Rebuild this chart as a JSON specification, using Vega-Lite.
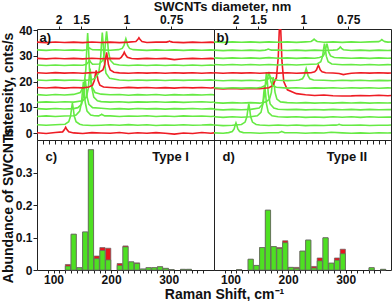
{
"$schema":"https://vega.github.io/schema/vega-lite/v6.json",
"padding":{"left":0,"top":0,"right":0,"bottom":0},
"background":"white",
"config":{
"font":"Liberation Sans",
"view":{"stroke":"#222","strokeWidth":1},
"axis":{"labelFont":"Liberation Sans","labelFontWeight":"bold","labelFontSize":12,"labelColor":"#111","titleFont":"Liberation Sans","titleFontWeight":"bold","titleFontSize":14,"titleColor":"#111","domain":false,"grid":false,"tickColor":"#222","tickSize":4,"labelPadding":1,"labelOverlap":false}
},
"datasets":{
"A":[
{"s":1,"x":80,"y":0.1},{"s":1,"x":95,"y":-0.15},{"s":1,"x":110,"y":0.2},{"s":1,"x":122,"y":0.46},{"s":1,"x":125,"y":1.38},{"s":1,"x":127,"y":2.3},{"s":1,"x":129,"y":1.38},{"s":1,"x":132,"y":0.46},{"s":1,"x":140,"y":0.05},{"s":1,"x":155,"y":-0.2},{"s":1,"x":170,"y":0.15},{"s":1,"x":185,"y":0},{"s":1,"x":200,"y":-0.1},{"s":1,"x":215,"y":0.2},{"s":1,"x":230,"y":-0.15},{"s":1,"x":245,"y":0.1},{"s":1,"x":260,"y":-0.05},{"s":1,"x":275,"y":0.15},{"s":1,"x":290,"y":-0.1},{"s":1,"x":305,"y":-0.4},{"s":1,"x":320,"y":0},{"s":1,"x":335,"y":-0.15},{"s":1,"x":350,"y":0.2},{"s":1,"x":365,"y":-0.1},{"s":1,"x":370,"y":0.05},
{"s":2,"x":80,"y":3.25},{"s":2,"x":95,"y":3.0},{"s":2,"x":110,"y":3.2},{"s":2,"x":126,"y":3.44},{"s":2,"x":132,"y":4.38},{"s":2,"x":135,"y":6.59},{"s":2,"x":136.5,"y":9.39},{"s":2,"x":138,"y":11.6},{"s":2,"x":139.5,"y":9.39},{"s":2,"x":141,"y":6.59},{"s":2,"x":144,"y":4.38},{"s":2,"x":150,"y":3.44},{"s":2,"x":155,"y":3.15},{"s":2,"x":170,"y":2.95},{"s":2,"x":185,"y":3.05},{"s":2,"x":200,"y":3.2},{"s":2,"x":215,"y":3.0},{"s":2,"x":230,"y":3.25},{"s":2,"x":245,"y":3.05},{"s":2,"x":260,"y":3.2},{"s":2,"x":275,"y":2.95},{"s":2,"x":290,"y":3.15},{"s":2,"x":305,"y":3.0},{"s":2,"x":320,"y":3.2},{"s":2,"x":335,"y":3.05},{"s":2,"x":350,"y":3.1},{"s":2,"x":365,"y":3.25},{"s":2,"x":370,"y":3.1},
{"s":3,"x":80,"y":6.4},{"s":3,"x":95,"y":6.65},{"s":3,"x":110,"y":6.45},{"s":3,"x":125,"y":6.6},{"s":3,"x":140,"y":6.7},{"s":3,"x":144,"y":7.03},{"s":3,"x":150,"y":8.5},{"s":3,"x":153,"y":11.95},{"s":3,"x":154.5,"y":16.34},{"s":3,"x":156,"y":19.8},{"s":3,"x":157.5,"y":16.34},{"s":3,"x":159,"y":11.95},{"s":3,"x":162,"y":8.5},{"s":3,"x":168,"y":7.03},{"s":3,"x":174,"y":6.7},{"s":3,"x":181,"y":6.66},{"s":3,"x":184,"y":6.98},{"s":3,"x":186,"y":7.3},{"s":3,"x":188,"y":6.98},{"s":3,"x":191,"y":6.66},{"s":3,"x":200,"y":6.65},{"s":3,"x":215,"y":6.4},{"s":3,"x":230,"y":6.6},{"s":3,"x":245,"y":6.5},{"s":3,"x":260,"y":6.7},{"s":3,"x":275,"y":6.45},{"s":3,"x":290,"y":6.6},{"s":3,"x":305,"y":6.4},{"s":3,"x":320,"y":6.65},{"s":3,"x":335,"y":6.5},{"s":3,"x":350,"y":6.6},{"s":3,"x":365,"y":6.45},{"s":3,"x":370,"y":6.55},
{"s":4,"x":80,"y":9.5},{"s":4,"x":95,"y":9.3},{"s":4,"x":110,"y":9.55},{"s":4,"x":125,"y":9.35},{"s":4,"x":140,"y":9.5},{"s":4,"x":147,"y":9.86},{"s":4,"x":153,"y":11.14},{"s":4,"x":156,"y":14.16},{"s":4,"x":157.5,"y":17.98},{"s":4,"x":159,"y":21.0},{"s":4,"x":160.5,"y":17.98},{"s":4,"x":162,"y":14.16},{"s":4,"x":165,"y":11.14},{"s":4,"x":171,"y":9.86},{"s":4,"x":185,"y":9.6},{"s":4,"x":200,"y":9.35},{"s":4,"x":215,"y":9.5},{"s":4,"x":230,"y":9.3},{"s":4,"x":245,"y":9.55},{"s":4,"x":260,"y":9.4},{"s":4,"x":275,"y":9.5},{"s":4,"x":290,"y":9.3},{"s":4,"x":305,"y":9.5},{"s":4,"x":320,"y":9.4},{"s":4,"x":335,"y":9.55},{"s":4,"x":350,"y":9.35},{"s":4,"x":365,"y":9.5},{"s":4,"x":370,"y":9.4},
{"s":5,"x":80,"y":11.9},{"s":5,"x":95,"y":12.1},{"s":5,"x":110,"y":11.95},{"s":5,"x":125,"y":12.15},{"s":5,"x":140,"y":12.0},{"s":5,"x":155,"y":12.52},{"s":5,"x":161,"y":13.95},{"s":5,"x":164,"y":17.33},{"s":5,"x":165.5,"y":21.62},{"s":5,"x":167,"y":25.0},{"s":5,"x":168.5,"y":21.62},{"s":5,"x":170,"y":17.33},{"s":5,"x":173,"y":13.95},{"s":5,"x":179,"y":12.52},{"s":5,"x":185,"y":12.2},{"s":5,"x":200,"y":12.0},{"s":5,"x":215,"y":12.15},{"s":5,"x":230,"y":11.9},{"s":5,"x":245,"y":12.1},{"s":5,"x":260,"y":12.0},{"s":5,"x":275,"y":12.15},{"s":5,"x":290,"y":11.95},{"s":5,"x":305,"y":12.1},{"s":5,"x":320,"y":11.9},{"s":5,"x":335,"y":12.05},{"s":5,"x":350,"y":12.15},{"s":5,"x":365,"y":11.95},{"s":5,"x":370,"y":12.05},
{"s":6,"x":80,"y":14.9},{"s":6,"x":95,"y":14.7},{"s":6,"x":110,"y":14.95},{"s":6,"x":125,"y":14.75},{"s":6,"x":140,"y":15.0},{"s":6,"x":151,"y":15.76},{"s":6,"x":157,"y":18.4},{"s":6,"x":160,"y":24.64},{"s":6,"x":161.5,"y":32.56},{"s":6,"x":163,"y":38.8},{"s":6,"x":164.5,"y":32.56},{"s":6,"x":166,"y":24.64},{"s":6,"x":169,"y":18.4},{"s":6,"x":175,"y":15.76},{"s":6,"x":185,"y":15.1},{"s":6,"x":200,"y":14.85},{"s":6,"x":215,"y":14.95},{"s":6,"x":230,"y":14.7},{"s":6,"x":245,"y":14.9},{"s":6,"x":260,"y":14.8},{"s":6,"x":275,"y":14.95},{"s":6,"x":290,"y":14.7},{"s":6,"x":305,"y":14.9},{"s":6,"x":320,"y":14.75},{"s":6,"x":335,"y":14.9},{"s":6,"x":350,"y":14.8},{"s":6,"x":365,"y":14.95},{"s":6,"x":370,"y":14.8},
{"s":7,"x":80,"y":17.7},{"s":7,"x":95,"y":17.5},{"s":7,"x":110,"y":17.75},{"s":7,"x":125,"y":17.45},{"s":7,"x":140,"y":17.7},{"s":7,"x":155,"y":17.55},{"s":7,"x":165,"y":17.87},{"s":7,"x":171,"y":18.6},{"s":7,"x":174,"y":20.35},{"s":7,"x":175.5,"y":22.56},{"s":7,"x":177,"y":24.3},{"s":7,"x":178.5,"y":22.56},{"s":7,"x":180,"y":20.35},{"s":7,"x":183,"y":18.6},{"s":7,"x":189,"y":17.87},{"s":7,"x":200,"y":17.7},{"s":7,"x":215,"y":17.5},{"s":7,"x":230,"y":17.75},{"s":7,"x":245,"y":17.55},{"s":7,"x":260,"y":17.7},{"s":7,"x":275,"y":17.5},{"s":7,"x":290,"y":17.65},{"s":7,"x":305,"y":17.45},{"s":7,"x":320,"y":17.7},{"s":7,"x":335,"y":17.55},{"s":7,"x":350,"y":17.7},{"s":7,"x":365,"y":17.5},{"s":7,"x":370,"y":17.65},
{"s":8,"x":80,"y":20.6},{"s":8,"x":95,"y":20.4},{"s":8,"x":110,"y":20.65},{"s":8,"x":125,"y":20.45},{"s":8,"x":140,"y":20.6},{"s":8,"x":155,"y":20.4},{"s":8,"x":170,"y":20.7},{"s":8,"x":175,"y":21.24},{"s":8,"x":181,"y":23.28},{"s":8,"x":184,"y":28.09},{"s":8,"x":185.5,"y":34.19},{"s":8,"x":187,"y":39.0},{"s":8,"x":188.5,"y":34.19},{"s":8,"x":190,"y":28.09},{"s":8,"x":193,"y":23.28},{"s":8,"x":199,"y":21.24},{"s":8,"x":215,"y":20.6},{"s":8,"x":230,"y":20.4},{"s":8,"x":245,"y":20.6},{"s":8,"x":260,"y":20.45},{"s":8,"x":275,"y":20.6},{"s":8,"x":290,"y":20.4},{"s":8,"x":305,"y":20.6},{"s":8,"x":320,"y":20.45},{"s":8,"x":335,"y":20.6},{"s":8,"x":350,"y":20.5},{"s":8,"x":365,"y":20.65},{"s":8,"x":370,"y":20.5},
{"s":9,"x":80,"y":23.4},{"s":9,"x":95,"y":23.2},{"s":9,"x":110,"y":23.45},{"s":9,"x":125,"y":23.25},{"s":9,"x":140,"y":23.4},{"s":9,"x":155,"y":23.2},{"s":9,"x":170,"y":23.45},{"s":9,"x":182,"y":23.62},{"s":9,"x":188,"y":24.5},{"s":9,"x":191,"y":26.58},{"s":9,"x":192.5,"y":29.22},{"s":9,"x":194,"y":31.3},{"s":9,"x":195.5,"y":29.22},{"s":9,"x":197,"y":26.58},{"s":9,"x":200,"y":24.5},{"s":9,"x":206,"y":23.62},{"s":9,"x":215,"y":23.35},{"s":9,"x":230,"y":23.2},{"s":9,"x":245,"y":23.4},{"s":9,"x":260,"y":23.25},{"s":9,"x":275,"y":23.4},{"s":9,"x":290,"y":23.2},{"s":9,"x":305,"y":23.4},{"s":9,"x":320,"y":23.25},{"s":9,"x":335,"y":23.4},{"s":9,"x":350,"y":23.2},{"s":9,"x":365,"y":23.4},{"s":9,"x":370,"y":23.3},
{"s":10,"x":80,"y":26.4},{"s":10,"x":95,"y":26.2},{"s":10,"x":110,"y":26.45},{"s":10,"x":125,"y":26.25},{"s":10,"x":140,"y":26.4},{"s":10,"x":155,"y":26.3},{"s":10,"x":161,"y":26.7},{"s":10,"x":164,"y":27.5},{"s":10,"x":166,"y":28.3},{"s":10,"x":168,"y":27.5},{"s":10,"x":171,"y":26.7},{"s":10,"x":182,"y":26.83},{"s":10,"x":188,"y":28.28},{"s":10,"x":191,"y":31.71},{"s":10,"x":192.5,"y":36.07},{"s":10,"x":194,"y":39.5},{"s":10,"x":195.5,"y":36.07},{"s":10,"x":197,"y":31.71},{"s":10,"x":200,"y":28.28},{"s":10,"x":206,"y":26.83},{"s":10,"x":215,"y":26.45},{"s":10,"x":230,"y":26.25},{"s":10,"x":245,"y":26.4},{"s":10,"x":260,"y":26.2},{"s":10,"x":275,"y":26.4},{"s":10,"x":290,"y":26.25},{"s":10,"x":305,"y":26.4},{"s":10,"x":320,"y":26.2},{"s":10,"x":335,"y":26.4},{"s":10,"x":350,"y":26.25},{"s":10,"x":365,"y":26.4},{"s":10,"x":370,"y":26.3},
{"s":11,"x":80,"y":29.0},{"s":11,"x":95,"y":28.8},{"s":11,"x":110,"y":29.05},{"s":11,"x":125,"y":28.85},{"s":11,"x":140,"y":29.0},{"s":11,"x":155,"y":28.8},{"s":11,"x":170,"y":29.05},{"s":11,"x":185,"y":28.85},{"s":11,"x":200,"y":29.0},{"s":11,"x":215,"y":28.9},{"s":11,"x":218,"y":29.4},{"s":11,"x":221,"y":30.4},{"s":11,"x":223,"y":31.4},{"s":11,"x":225,"y":30.4},{"s":11,"x":228,"y":29.4},{"s":11,"x":235,"y":28.95},{"s":11,"x":245,"y":28.8},{"s":11,"x":260,"y":29.0},{"s":11,"x":275,"y":28.85},{"s":11,"x":290,"y":29.0},{"s":11,"x":305,"y":28.5},{"s":11,"x":320,"y":28.85},{"s":11,"x":335,"y":29.0},{"s":11,"x":350,"y":28.85},{"s":11,"x":365,"y":29.0},{"s":11,"x":370,"y":28.9},
{"s":12,"x":80,"y":32.3},{"s":12,"x":95,"y":32.1},{"s":12,"x":110,"y":32.35},{"s":12,"x":125,"y":32.15},{"s":12,"x":140,"y":32.3},{"s":12,"x":155,"y":32.1},{"s":12,"x":161,"y":32.36},{"s":12,"x":164,"y":32.68},{"s":12,"x":166,"y":33.0},{"s":12,"x":168,"y":32.68},{"s":12,"x":171,"y":32.36},{"s":12,"x":185,"y":32.3},{"s":12,"x":200,"y":32.15},{"s":12,"x":213.6,"y":32.38},{"s":12,"x":219.6,"y":32.86},{"s":12,"x":222.6,"y":34.0},{"s":12,"x":224.1,"y":35.46},{"s":12,"x":225.6,"y":36.6},{"s":12,"x":227.1,"y":35.46},{"s":12,"x":228.6,"y":34.0},{"s":12,"x":231.6,"y":32.86},{"s":12,"x":237.6,"y":32.38},{"s":12,"x":245,"y":32.3},{"s":12,"x":260,"y":32.1},{"s":12,"x":275,"y":32.3},{"s":12,"x":290,"y":32.15},{"s":12,"x":305,"y":32.3},{"s":12,"x":320,"y":32.1},{"s":12,"x":335,"y":32.3},{"s":12,"x":350,"y":32.15},{"s":12,"x":365,"y":32.3},{"s":12,"x":370,"y":32.2},
{"s":13,"x":80,"y":35.3},{"s":13,"x":95,"y":35.1},{"s":13,"x":110,"y":35.35},{"s":13,"x":125,"y":35.15},{"s":13,"x":140,"y":35.3},{"s":13,"x":155,"y":35.1},{"s":13,"x":170,"y":35.35},{"s":13,"x":185,"y":35.15},{"s":13,"x":200,"y":35.3},{"s":13,"x":215,"y":35.1},{"s":13,"x":230,"y":35.3},{"s":13,"x":242,"y":35.56},{"s":13,"x":245,"y":36.28},{"s":13,"x":247,"y":37.0},{"s":13,"x":249,"y":36.28},{"s":13,"x":252,"y":35.56},{"s":13,"x":260,"y":35.15},{"s":13,"x":275,"y":35.3},{"s":13,"x":292,"y":35.3},{"s":13,"x":295,"y":35.5},{"s":13,"x":297,"y":35.7},{"s":13,"x":299,"y":35.5},{"s":13,"x":302,"y":35.3},{"s":13,"x":320,"y":35.1},{"s":13,"x":335,"y":35.3},{"s":13,"x":350,"y":35.15},{"s":13,"x":365,"y":35.3},{"s":13,"x":370,"y":35.2}
],
"B":[
{"s":1,"x":80,"y":0.05},{"s":1,"x":95,"y":-0.1},{"s":1,"x":104,"y":0.16},{"s":1,"x":110,"y":0.59},{"s":1,"x":113,"y":1.6},{"s":1,"x":114.5,"y":2.89},{"s":1,"x":116,"y":3.9},{"s":1,"x":117.5,"y":2.89},{"s":1,"x":119,"y":1.6},{"s":1,"x":122,"y":0.59},{"s":1,"x":128,"y":0.16},{"s":1,"x":140,"y":0.1},{"s":1,"x":155,"y":-0.05},{"s":1,"x":170,"y":0.1},{"s":1,"x":186,"y":0.12},{"s":1,"x":189,"y":0.36},{"s":1,"x":191,"y":0.6},{"s":1,"x":193,"y":0.36},{"s":1,"x":196,"y":0.12},{"s":1,"x":215,"y":0.1},{"s":1,"x":230,"y":-0.05},{"s":1,"x":245,"y":0.1},{"s":1,"x":260,"y":0.0},{"s":1,"x":272,"y":0.3},{"s":1,"x":290,"y":0.05},{"s":1,"x":305,"y":-0.1},{"s":1,"x":320,"y":0.05},{"s":1,"x":335,"y":-0.05},{"s":1,"x":350,"y":0.1},{"s":1,"x":365,"y":0.0},{"s":1,"x":370,"y":0.05},
{"s":2,"x":80,"y":3.1},{"s":2,"x":95,"y":2.9},{"s":2,"x":110,"y":3.05},{"s":2,"x":125,"y":3.34},{"s":2,"x":131,"y":4.26},{"s":2,"x":134,"y":6.44},{"s":2,"x":135.5,"y":9.22},{"s":2,"x":137,"y":11.4},{"s":2,"x":138.5,"y":9.22},{"s":2,"x":140,"y":6.44},{"s":2,"x":143,"y":4.26},{"s":2,"x":149,"y":3.34},{"s":2,"x":155,"y":3.1},{"s":2,"x":170,"y":2.95},{"s":2,"x":185,"y":3.1},{"s":2,"x":200,"y":2.95},{"s":2,"x":215,"y":3.1},{"s":2,"x":230,"y":2.9},{"s":2,"x":245,"y":3.05},{"s":2,"x":260,"y":2.95},{"s":2,"x":275,"y":3.1},{"s":2,"x":280,"y":3.08},{"s":2,"x":283,"y":3.24},{"s":2,"x":285,"y":3.4},{"s":2,"x":287,"y":3.24},{"s":2,"x":290,"y":3.08},{"s":2,"x":305,"y":3.0},{"s":2,"x":320,"y":3.1},{"s":2,"x":335,"y":2.95},{"s":2,"x":350,"y":3.05},{"s":2,"x":365,"y":3.0},{"s":2,"x":370,"y":3.1},
{"s":3,"x":80,"y":6.3},{"s":3,"x":95,"y":6.1},{"s":3,"x":110,"y":6.3},{"s":3,"x":125,"y":6.15},{"s":3,"x":140,"y":6.3},{"s":3,"x":151,"y":6.69},{"s":3,"x":157,"y":8.05},{"s":3,"x":160,"y":11.24},{"s":3,"x":161.5,"y":15.3},{"s":3,"x":163,"y":18.5},{"s":3,"x":164.5,"y":15.3},{"s":3,"x":166,"y":11.24},{"s":3,"x":169,"y":8.05},{"s":3,"x":175,"y":6.69},{"s":3,"x":185,"y":6.35},{"s":3,"x":200,"y":6.2},{"s":3,"x":215,"y":6.3},{"s":3,"x":230,"y":6.1},{"s":3,"x":245,"y":6.25},{"s":3,"x":260,"y":6.1},{"s":3,"x":275,"y":6.3},{"s":3,"x":290,"y":6.15},{"s":3,"x":305,"y":6.3},{"s":3,"x":320,"y":6.1},{"s":3,"x":335,"y":6.3},{"s":3,"x":350,"y":6.15},{"s":3,"x":365,"y":6.25},{"s":3,"x":370,"y":6.2},
{"s":4,"x":80,"y":9.2},{"s":4,"x":95,"y":9.0},{"s":4,"x":110,"y":9.2},{"s":4,"x":125,"y":9.05},{"s":4,"x":140,"y":9.2},{"s":4,"x":154,"y":9.68},{"s":4,"x":160,"y":11.29},{"s":4,"x":163,"y":15.09},{"s":4,"x":164.5,"y":19.9},{"s":4,"x":166,"y":23.7},{"s":4,"x":167.5,"y":19.9},{"s":4,"x":169,"y":15.09},{"s":4,"x":172,"y":11.29},{"s":4,"x":178,"y":9.68},{"s":4,"x":185,"y":9.25},{"s":4,"x":200,"y":9.1},{"s":4,"x":215,"y":9.2},{"s":4,"x":230,"y":9.0},{"s":4,"x":245,"y":9.15},{"s":4,"x":260,"y":9.0},{"s":4,"x":275,"y":9.2},{"s":4,"x":290,"y":9.05},{"s":4,"x":305,"y":9.2},{"s":4,"x":320,"y":9.0},{"s":4,"x":335,"y":9.2},{"s":4,"x":350,"y":9.05},{"s":4,"x":365,"y":9.15},{"s":4,"x":370,"y":9.1},
{"s":5,"x":80,"y":11.8},{"s":5,"x":95,"y":11.6},{"s":5,"x":110,"y":11.8},{"s":5,"x":125,"y":11.65},{"s":5,"x":140,"y":11.8},{"s":5,"x":155,"y":11.6},{"s":5,"x":165,"y":12.1},{"s":5,"x":171,"y":13.2},{"s":5,"x":174,"y":15.8},{"s":5,"x":175.5,"y":19.1},{"s":5,"x":177,"y":21.7},{"s":5,"x":178.5,"y":19.1},{"s":5,"x":180,"y":15.8},{"s":5,"x":183,"y":13.2},{"s":5,"x":189,"y":12.1},{"s":5,"x":200,"y":11.8},{"s":5,"x":215,"y":11.65},{"s":5,"x":230,"y":11.8},{"s":5,"x":245,"y":11.6},{"s":5,"x":260,"y":11.75},{"s":5,"x":275,"y":11.6},{"s":5,"x":290,"y":11.8},{"s":5,"x":305,"y":11.65},{"s":5,"x":320,"y":11.8},{"s":5,"x":335,"y":11.6},{"s":5,"x":350,"y":11.75},{"s":5,"x":365,"y":11.65},{"s":5,"x":370,"y":11.7},
{"s":6,"x":80,"y":17.3},{"s":6,"x":95,"y":17.1},{"s":6,"x":110,"y":17.3},{"s":6,"x":125,"y":17.15},{"s":6,"x":140,"y":17.3},{"s":6,"x":155,"y":17.2},{"s":6,"x":170,"y":17.6},{"s":6,"x":176.3,"y":18.5},{"s":6,"x":182.3,"y":21.5},{"s":6,"x":185.3,"y":29.5},{"s":6,"x":186.8,"y":39},{"s":6,"x":188.3,"y":46},{"s":6,"x":189.8,"y":37.5},{"s":6,"x":191.3,"y":28},{"s":6,"x":194.3,"y":20},{"s":6,"x":200.3,"y":16.8},{"s":6,"x":215,"y":15.3},{"s":6,"x":230,"y":14.9},{"s":6,"x":245,"y":14.6},{"s":6,"x":260,"y":14.75},{"s":6,"x":275,"y":14.5},{"s":6,"x":290,"y":14.4},{"s":6,"x":305,"y":14.45},{"s":6,"x":320,"y":14.6},{"s":6,"x":335,"y":14.5},{"s":6,"x":350,"y":14.65},{"s":6,"x":365,"y":14.5},{"s":6,"x":370,"y":14.6},
{"s":7,"x":80,"y":17.6},{"s":7,"x":95,"y":17.4},{"s":7,"x":110,"y":17.6},{"s":7,"x":125,"y":17.45},{"s":7,"x":140,"y":17.6},{"s":7,"x":150,"y":17.5},{"s":7,"x":158,"y":17.75},{"s":7,"x":164,"y":18.43},{"s":7,"x":167,"y":20.04},{"s":7,"x":168.5,"y":22.09},{"s":7,"x":170,"y":23.7},{"s":7,"x":171.5,"y":22.09},{"s":7,"x":173,"y":20.04},{"s":7,"x":176,"y":18.43},{"s":7,"x":182,"y":17.75},{"s":7,"x":200,"y":17.45},{"s":7,"x":215,"y":17.6},{"s":7,"x":230,"y":17.4},{"s":7,"x":245,"y":17.55},{"s":7,"x":260,"y":17.45},{"s":7,"x":275,"y":17.6},{"s":7,"x":290,"y":17.4},{"s":7,"x":305,"y":17.6},{"s":7,"x":320,"y":17.45},{"s":7,"x":335,"y":17.6},{"s":7,"x":350,"y":17.4},{"s":7,"x":365,"y":17.55},{"s":7,"x":370,"y":17.5},
{"s":8,"x":80,"y":20.5},{"s":8,"x":95,"y":20.3},{"s":8,"x":110,"y":20.5},{"s":8,"x":125,"y":20.35},{"s":8,"x":140,"y":20.5},{"s":8,"x":155,"y":20.3},{"s":8,"x":167,"y":20.7},{"s":8,"x":170,"y":21.3},{"s":8,"x":172,"y":21.9},{"s":8,"x":174,"y":21.3},{"s":8,"x":177,"y":20.7},{"s":8,"x":185,"y":20.5},{"s":8,"x":200,"y":20.35},{"s":8,"x":215,"y":20.5},{"s":8,"x":219,"y":20.58},{"s":8,"x":225,"y":21.09},{"s":8,"x":228,"y":22.29},{"s":8,"x":229.5,"y":23.8},{"s":8,"x":231,"y":25.0},{"s":8,"x":232.5,"y":23.8},{"s":8,"x":234,"y":22.29},{"s":8,"x":237,"y":21.09},{"s":8,"x":243,"y":20.58},{"s":8,"x":260,"y":20.5},{"s":8,"x":275,"y":20.3},{"s":8,"x":290,"y":20.5},{"s":8,"x":305,"y":20.35},{"s":8,"x":320,"y":20.5},{"s":8,"x":335,"y":20.3},{"s":8,"x":350,"y":20.45},{"s":8,"x":365,"y":20.35},{"s":8,"x":370,"y":20.4},
{"s":9,"x":80,"y":23.4},{"s":9,"x":95,"y":23.2},{"s":9,"x":110,"y":23.4},{"s":9,"x":125,"y":23.25},{"s":9,"x":140,"y":23.4},{"s":9,"x":155,"y":23.2},{"s":9,"x":170,"y":23.4},{"s":9,"x":185,"y":23.25},{"s":9,"x":200,"y":23.4},{"s":9,"x":215,"y":23.2},{"s":9,"x":230,"y":23.35},{"s":9,"x":239,"y":23.42},{"s":9,"x":245,"y":23.75},{"s":9,"x":248,"y":24.53},{"s":9,"x":249.5,"y":25.52},{"s":9,"x":251,"y":26.3},{"s":9,"x":252.5,"y":25.52},{"s":9,"x":254,"y":24.53},{"s":9,"x":257,"y":23.75},{"s":9,"x":263,"y":23.42},{"s":9,"x":275,"y":23.3},{"s":9,"x":285,"y":23.1},{"s":9,"x":292,"y":22.7},{"s":9,"x":297,"y":22.9},{"s":9,"x":305,"y":23.2},{"s":9,"x":320,"y":23.4},{"s":9,"x":335,"y":23.25},{"s":9,"x":350,"y":23.4},{"s":9,"x":365,"y":23.25},{"s":9,"x":370,"y":23.3},
{"s":10,"x":80,"y":26.6},{"s":10,"x":95,"y":26.4},{"s":10,"x":110,"y":26.6},{"s":10,"x":125,"y":26.45},{"s":10,"x":140,"y":26.6},{"s":10,"x":155,"y":26.4},{"s":10,"x":170,"y":26.6},{"s":10,"x":185,"y":26.45},{"s":10,"x":200,"y":26.6},{"s":10,"x":215,"y":26.4},{"s":10,"x":230,"y":26.6},{"s":10,"x":249,"y":26.83},{"s":10,"x":255,"y":27.73},{"s":10,"x":258,"y":29.86},{"s":10,"x":259.5,"y":32.57},{"s":10,"x":261,"y":34.7},{"s":10,"x":262.5,"y":32.57},{"s":10,"x":264,"y":29.86},{"s":10,"x":267,"y":27.73},{"s":10,"x":273,"y":26.83},{"s":10,"x":290,"y":26.5},{"s":10,"x":305,"y":26.6},{"s":10,"x":320,"y":26.4},{"s":10,"x":335,"y":26.6},{"s":10,"x":350,"y":26.45},{"s":10,"x":365,"y":26.55},{"s":10,"x":370,"y":26.5},
{"s":11,"x":80,"y":29.2},{"s":11,"x":95,"y":29.0},{"s":11,"x":110,"y":29.2},{"s":11,"x":125,"y":29.05},{"s":11,"x":140,"y":29.2},{"s":11,"x":155,"y":29.0},{"s":11,"x":170,"y":29.3},{"s":11,"x":185,"y":29.05},{"s":11,"x":200,"y":29.2},{"s":11,"x":215,"y":29.0},{"s":11,"x":230,"y":29.2},{"s":11,"x":245,"y":29.05},{"s":11,"x":253,"y":29.32},{"s":11,"x":259,"y":29.94},{"s":11,"x":262,"y":31.4},{"s":11,"x":263.5,"y":33.24},{"s":11,"x":265,"y":34.7},{"s":11,"x":266.5,"y":33.24},{"s":11,"x":268,"y":31.4},{"s":11,"x":271,"y":29.94},{"s":11,"x":277,"y":29.32},{"s":11,"x":290,"y":29.2},{"s":11,"x":305,"y":29.05},{"s":11,"x":320,"y":29.2},{"s":11,"x":335,"y":29.0},{"s":11,"x":350,"y":29.2},{"s":11,"x":365,"y":29.05},{"s":11,"x":370,"y":29.1},
{"s":12,"x":80,"y":32.2},{"s":12,"x":95,"y":32.0},{"s":12,"x":110,"y":32.2},{"s":12,"x":125,"y":32.05},{"s":12,"x":140,"y":32.2},{"s":12,"x":155,"y":32.0},{"s":12,"x":164,"y":32.2},{"s":12,"x":167,"y":32.4},{"s":12,"x":169,"y":32.6},{"s":12,"x":171,"y":32.4},{"s":12,"x":174,"y":32.2},{"s":12,"x":185,"y":32.2},{"s":12,"x":200,"y":32.05},{"s":12,"x":215,"y":32.2},{"s":12,"x":230,"y":32.0},{"s":12,"x":245,"y":32.2},{"s":12,"x":260,"y":32.05},{"s":12,"x":275,"y":32.2},{"s":12,"x":282,"y":32.36},{"s":12,"x":285,"y":32.88},{"s":12,"x":287,"y":33.4},{"s":12,"x":289,"y":32.88},{"s":12,"x":292,"y":32.36},{"s":12,"x":305,"y":32.05},{"s":12,"x":320,"y":32.2},{"s":12,"x":335,"y":32.0},{"s":12,"x":350,"y":32.2},{"s":12,"x":365,"y":32.05},{"s":12,"x":370,"y":32.1},
{"s":13,"x":80,"y":35.4},{"s":13,"x":95,"y":35.2},{"s":13,"x":110,"y":35.4},{"s":13,"x":125,"y":35.25},{"s":13,"x":140,"y":35.4},{"s":13,"x":155,"y":35.2},{"s":13,"x":170,"y":35.4},{"s":13,"x":185,"y":35.25},{"s":13,"x":200,"y":35.4},{"s":13,"x":215,"y":35.2},{"s":13,"x":230,"y":35.4},{"s":13,"x":239,"y":35.54},{"s":13,"x":242,"y":36.02},{"s":13,"x":244,"y":36.5},{"s":13,"x":246,"y":36.02},{"s":13,"x":249,"y":35.54},{"s":13,"x":260,"y":35.25},{"s":13,"x":275,"y":35.4},{"s":13,"x":290,"y":35.2},{"s":13,"x":305,"y":35.4},{"s":13,"x":320,"y":35.25},{"s":13,"x":335,"y":35.4},{"s":13,"x":350,"y":35.5},{"s":13,"x":353,"y":35.9},{"s":13,"x":355,"y":36.3},{"s":13,"x":357,"y":35.9},{"s":13,"x":360,"y":35.5},{"s":13,"x":365,"y":35.3},{"s":13,"x":370,"y":35.35}
],
"C":[
{"c":125,"sc":0.012,"tot":0.017},{"c":135,"sc":0.11,"tot":0.11},{"c":145,"sc":0.007,"tot":0.007},{"c":155,"sc":0.117,"tot":0.117},{"c":165,"sc":0.37,"tot":0.37},{"c":175,"sc":0.035,"tot":0.043},{"c":185,"sc":0.06,"tot":0.069},{"c":195,"sc":0.031,"tot":0.067},{"c":215,"sc":0.014,"tot":0.02},{"c":225,"sc":0.071,"tot":0.074},{"c":235,"sc":0.025,"tot":0.025},{"c":245,"sc":0.02,"tot":0.022},{"c":255,"sc":0.003,"tot":0.003},{"c":265,"sc":0.007,"tot":0.007},{"c":275,"sc":0.007,"tot":0.007},{"c":285,"sc":0.01,"tot":0.01},{"c":295,"sc":0.005,"tot":0.005},{"c":305,"sc":0.001,"tot":0.001},{"c":325,"sc":0.002,"tot":0.002},{"c":335,"sc":0.002,"tot":0.002}
],
"D":[
{"c":115,"sc":0.001,"tot":0.001},{"c":135,"sc":0.033,"tot":0.033},{"c":145,"sc":0.014,"tot":0.014},{"c":155,"sc":0.069,"tot":0.069},{"c":165,"sc":0.184,"tot":0.184},{"c":175,"sc":0.072,"tot":0.072},{"c":185,"sc":0.066,"tot":0.069},{"c":195,"sc":0.084,"tot":0.09},{"c":205,"sc":0.008,"tot":0.008},{"c":215,"sc":0.005,"tot":0.008},{"c":225,"sc":0.058,"tot":0.058},{"c":235,"sc":0.092,"tot":0.092},{"c":245,"sc":0.006,"tot":0.011},{"c":255,"sc":0.028,"tot":0.037},{"c":265,"sc":0.099,"tot":0.099},{"c":275,"sc":0.021,"tot":0.021},{"c":285,"sc":0.03,"tot":0.037},{"c":295,"sc":0.05,"tot":0.064},{"c":345,"sc":0.007,"tot":0.007},{"c":365,"sc":0.002,"tot":0.002}
]
},
"columns":2,
"spacing":0,
"bounds":"flush",
"resolve":{"scale":{"color":"independent"}},
"concat":[
{"width":177,"height":111,
"layer":[
{"data":{"name":"A"},"mark":{"type":"line","strokeWidth":1.6,"clip":true},
"encoding":{
"x":{"field":"x","type":"quantitative","scale":{"domain":[80,370],"nice":false,"zero":false},"axis":{"orient":"top","values":[115.5,152.4,226.2,300],"labelExpr":"datum.value < 130 ? '2' : datum.value < 200 ? '1.5' : datum.value < 260 ? '1' : '0.75'","title":"SWCNTs diameter, nm","titleFontSize":13,"titleX":185,"titleY":-18.5,"titleAlign":"center","titleBaseline":"alphabetic","tickSize":3,"labelPadding":0}},
"y":{"field":"y","type":"quantitative","scale":{"domain":[-2.7,40.4],"nice":false,"zero":false},"axis":{"values":[0,10,20,30,40],"title":"Intensity, cnts/s","titleX":-22}},
"color":{"field":"s","type":"nominal","scale":{"domain":[1,2,3,4,5,6,7,8,9,10,11,12,13],"range":["#ee1c24","#66ea44","#66ea44","#66ea44","#66ea44","#66ea44","#ee1c24","#66ea44","#ee1c24","#66ea44","#ee1c24","#66ea44","#ee1c24"]},"legend":null}}},
{"data":{"values":[{"t":"a)"}]},"mark":{"type":"text","fontSize":13,"fontWeight":"bold","align":"left","baseline":"alphabetic","color":"#111"},
"encoding":{
"x":{"datum":84,"type":"quantitative","axis":{"orient":"bottom","values":[90,100,110,120,130,140,150,160,170,180,190,200,210,220,230,240,250,260,270,280,290,300,310,320,330,340,350,360],"labels":false,"title":null,"tickSize":4}},
"y":{"datum":35.3,"type":"quantitative","axis":null},
"text":{"field":"t"}}}
],
"resolve":{"axis":{"x":"independent","y":"independent"}}},
{"width":177,"height":111,
"layer":[
{"data":{"name":"B"},"mark":{"type":"line","strokeWidth":1.6,"clip":true},
"encoding":{
"x":{"field":"x","type":"quantitative","scale":{"domain":[80,370],"nice":false,"zero":false},"axis":{"orient":"top","values":[115.5,152.4,226.2,300],"labelExpr":"datum.value < 130 ? '2' : datum.value < 200 ? '1.5' : datum.value < 260 ? '1' : '0.75'","title":null,"tickSize":3,"labelPadding":0}},
"y":{"field":"y","type":"quantitative","scale":{"domain":[-2.7,40.4],"nice":false,"zero":false},"axis":null},
"color":{"field":"s","type":"nominal","scale":{"domain":[1,2,3,4,5,6,7,8,9,10,11,12,13],"range":["#66ea44","#66ea44","#66ea44","#66ea44","#66ea44","#ee1c24","#66ea44","#66ea44","#ee1c24","#66ea44","#66ea44","#66ea44","#66ea44"]},"legend":null}}},
{"data":{"values":[{"t":"b)"}]},"mark":{"type":"text","fontSize":13,"fontWeight":"bold","align":"left","baseline":"alphabetic","color":"#111"},
"encoding":{
"x":{"datum":84,"type":"quantitative","axis":{"orient":"bottom","values":[90,100,110,120,130,140,150,160,170,180,190,200,210,220,230,240,250,260,270,280,290,300,310,320,330,340,350,360],"labels":false,"title":null,"tickSize":4}},
"y":{"datum":35.3,"type":"quantitative","axis":null},
"text":{"field":"t"}}}
],
"resolve":{"axis":{"x":"independent","y":"independent"}}},
{"width":177,"height":130,
"layer":[
{"data":{"name":"C"},"mark":{"type":"bar","width":5.2,"color":"#e8141c","stroke":"#666","strokeWidth":0.7},
"encoding":{
"x":{"field":"c","type":"quantitative","scale":{"domain":[80,370],"nice":false,"zero":false},"axis":{"values":[90,100,110,120,130,140,150,160,170,180,190,200,210,220,230,240,250,260,270,280,290,300,310,320,330,340,350,360],"labelExpr":"datum.value % 100 === 0 ? datum.label : ''","tickSize":3,"title":"Raman Shift, cm⁻¹","titleX":187,"titleY":28.5,"titleAlign":"center","titleBaseline":"alphabetic"}},
"y":{"field":"tot","type":"quantitative","scale":{"domain":[0,0.4],"nice":false},"axis":{"values":[0,0.1,0.2,0.3],"format":"~g","title":"Abundance of SWCNTs","titleX":-22}}}},
{"data":{"name":"C"},"mark":{"type":"bar","width":5.2,"color":"#4ee022","stroke":"#666","strokeWidth":0.7},
"encoding":{
"x":{"field":"c","type":"quantitative","axis":null},
"y":{"field":"sc","type":"quantitative","axis":null}}},
{"data":{"values":[{"t":"c)"}]},"mark":{"type":"text","fontSize":13,"fontWeight":"bold","align":"left","baseline":"alphabetic","color":"#111"},
"encoding":{"x":{"datum":86,"type":"quantitative","axis":null},"y":{"datum":0.335,"type":"quantitative","axis":null},"text":{"field":"t"}}},
{"data":{"values":[{"t":"Type I"}]},"mark":{"type":"text","fontSize":13,"fontWeight":"bold","align":"right","baseline":"alphabetic","color":"#111"},
"encoding":{"x":{"datum":335,"type":"quantitative","axis":null},"y":{"datum":0.335,"type":"quantitative","axis":null},"text":{"field":"t"}}}
],
"resolve":{"axis":{"x":"independent","y":"independent"}}},
{"width":177,"height":130,
"layer":[
{"data":{"name":"D"},"mark":{"type":"bar","width":5.2,"color":"#e8141c","stroke":"#666","strokeWidth":0.7},
"encoding":{
"x":{"field":"c","type":"quantitative","scale":{"domain":[80,370],"nice":false,"zero":false},"axis":{"values":[90,100,110,120,130,140,150,160,170,180,190,200,210,220,230,240,250,260,270,280,290,300,310,320,330,340,350,360],"labelExpr":"datum.value % 100 === 0 ? datum.label : ''","tickSize":3,"title":null}},
"y":{"field":"tot","type":"quantitative","scale":{"domain":[0,0.4],"nice":false},"axis":null}}},
{"data":{"name":"D"},"mark":{"type":"bar","width":5.2,"color":"#4ee022","stroke":"#666","strokeWidth":0.7},
"encoding":{
"x":{"field":"c","type":"quantitative","axis":null},
"y":{"field":"sc","type":"quantitative","axis":null}}},
{"data":{"values":[{"t":"d)"}]},"mark":{"type":"text","fontSize":13,"fontWeight":"bold","align":"left","baseline":"alphabetic","color":"#111"},
"encoding":{"x":{"datum":86,"type":"quantitative","axis":null},"y":{"datum":0.335,"type":"quantitative","axis":null},"text":{"field":"t"}}},
{"data":{"values":[{"t":"Type II"}]},"mark":{"type":"text","fontSize":13,"fontWeight":"bold","align":"right","baseline":"alphabetic","color":"#111"},
"encoding":{"x":{"datum":337,"type":"quantitative","axis":null},"y":{"datum":0.335,"type":"quantitative","axis":null},"text":{"field":"t"}}}
],
"resolve":{"axis":{"x":"independent","y":"independent"}}}
]
}
